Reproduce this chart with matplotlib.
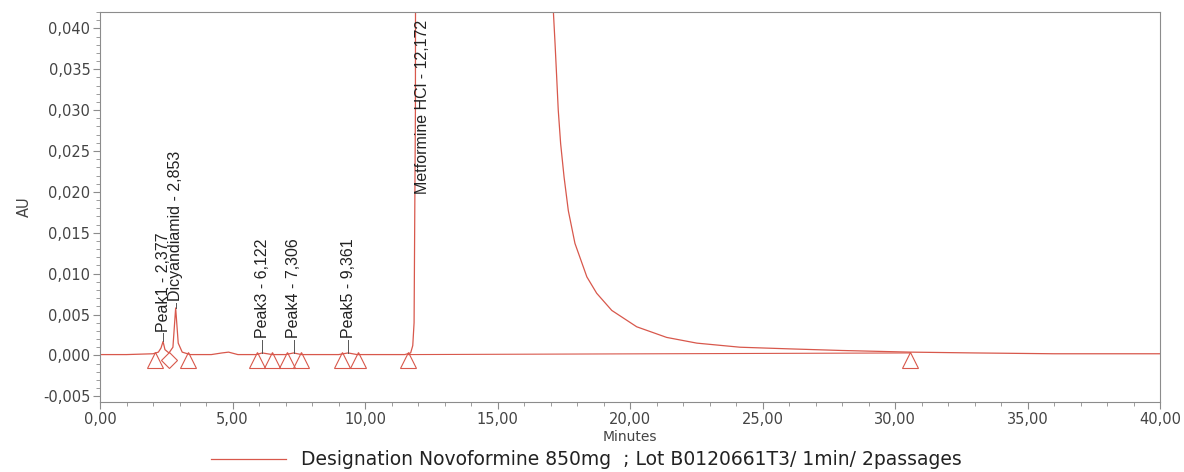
import matplotlib
matplotlib.use("Agg")
import matplotlib.pyplot as plt
from matplotlib.ticker import MultipleLocator, FuncFormatter

# chromatogram trace (minutes, AU)
trace_t = [0.0, 1.0, 2.0, 2.2, 2.3, 2.377, 2.45, 2.6, 2.75, 2.853, 2.95, 3.1, 3.4,
           4.2, 4.6, 4.85, 5.2, 5.9, 6.122, 6.5, 7.0, 7.306, 7.6, 9.0, 9.361, 9.7,
           11.5, 11.72, 11.8, 11.85, 11.9, 12.172, 16.98, 17.11, 17.17, 17.23, 17.29,
           17.38, 17.51, 17.67, 17.92, 18.37, 18.74, 19.31, 20.25, 21.38, 22.52,
           24.15, 26.0, 28.0, 30.57, 33.0, 36.0, 40.0]
trace_au = [0.0001, 0.0001, 0.0002, 0.0004, 0.0009, 0.0017, 0.0007, 0.0003, 0.0010,
            0.0058, 0.0015, 0.0004, 0.0001, 0.0001, 0.0003, 0.0004, 0.0001, 0.0001,
            0.0003, 0.0001, 0.0001, 0.0003, 0.0001, 0.0001, 0.0003, 0.0001,
            0.0001, 0.0003, 0.0012, 0.0040, 0.0300, 0.9000, 0.1000, 0.0418, 0.0381,
            0.0341, 0.0300, 0.0259, 0.0218, 0.0177, 0.0137, 0.0096, 0.0076, 0.0055,
            0.0035, 0.0022, 0.0015, 0.0010, 0.0008, 0.0006, 0.0004, 0.0003, 0.0002,
            0.0002]

# peak labels
peak_names = ["Peak1", "Dicyandiamid", "Peak3", "Peak4", "Peak5", "Metformine HCl"]
peak_rt = [2.377, 2.853, 6.122, 7.306, 9.361, 12.172]
peak_apex = [0.0017, 0.0058, 0.0003, 0.0003, 0.0003, None]
label_base = [0.0029, 0.0066, 0.0021, 0.0021, 0.0021, 0.0197]

# integration marks (start / end of peaks)
tri_t = [2.08, 3.32, 5.92, 6.5, 7.05, 7.6, 9.12, 9.74, 11.62, 30.57]
valley_t = [2.62]
# baseline drawn under the main peak
base_t = [11.62, 30.57]
base_au = [0.0001, 0.0003]

red = "#d8584c"
grey = "#8c8c8c"

fig = plt.figure(figsize=(11.84, 4.72), dpi=100)
ax = fig.add_axes([0.0845, 0.1483, 0.8953, 0.8263])

ax.plot(trace_t, trace_au, color=red, lw=0.9,
        label="Designation Novoformine 850mg  ; Lot B0120661T3/ 1min/ 2passages")
ax.plot(base_t, base_au, color=red, lw=0.8)
ax.plot(tri_t, [-0.0006] * len(tri_t), ls="none", marker="^", ms=11,
        mfc="none", mec=red, mew=0.8)
ax.plot(valley_t, [-0.0006] * len(valley_t), ls="none", marker="D", ms=8,
        mfc="none", mec=red, mew=0.8)

lab_font = ["Liberation Sans", "DejaVu Sans"]
for name, rt, apex, yb in zip(peak_names, peak_rt, peak_apex, label_base):
    if apex is not None:
        ax.plot([rt, rt], [apex, yb - 0.0002], color="#555555", lw=0.7)
    ax.text(rt, yb, f"{name} - {rt:.3f}".replace(".", ","), rotation=90,
            ha="center", va="bottom", fontsize=11.5, family=lab_font, color="#222222")

ax.set_xlim(0, 40)
ax.set_ylim(-0.0057, 0.042)
ax.xaxis.set_major_locator(MultipleLocator(5))
ax.xaxis.set_minor_locator(MultipleLocator(1))
ax.yaxis.set_major_locator(MultipleLocator(0.005))
ax.yaxis.set_minor_locator(MultipleLocator(0.001))
ax.xaxis.set_major_formatter(FuncFormatter(lambda v, p: f"{v:.2f}".replace(".", ",")))
ax.yaxis.set_major_formatter(FuncFormatter(lambda v, p: f"{v:.3f}".replace(".", ",").replace("-0,000", "0,000")))

for s in ax.spines.values():
    s.set_color(grey)
    s.set_linewidth(0.8)
ax.tick_params(which="major", length=5, width=0.8, color=grey, labelsize=10.5,
               labelcolor="#444444", pad=2)
ax.tick_params(which="minor", length=3, width=0.6, color=grey)

ax.set_xlabel("Minutes", fontsize=10, color="#444444", labelpad=2)
ax.set_ylabel("AU", fontsize=10.5, color="#444444", labelpad=8)

fig.legend(loc="lower center", bbox_to_anchor=(0.495, -0.03), frameon=False,
           fontsize=13.5, handlelength=4, labelcolor="#222222")

fig.savefig("out.png", dpi=100)
